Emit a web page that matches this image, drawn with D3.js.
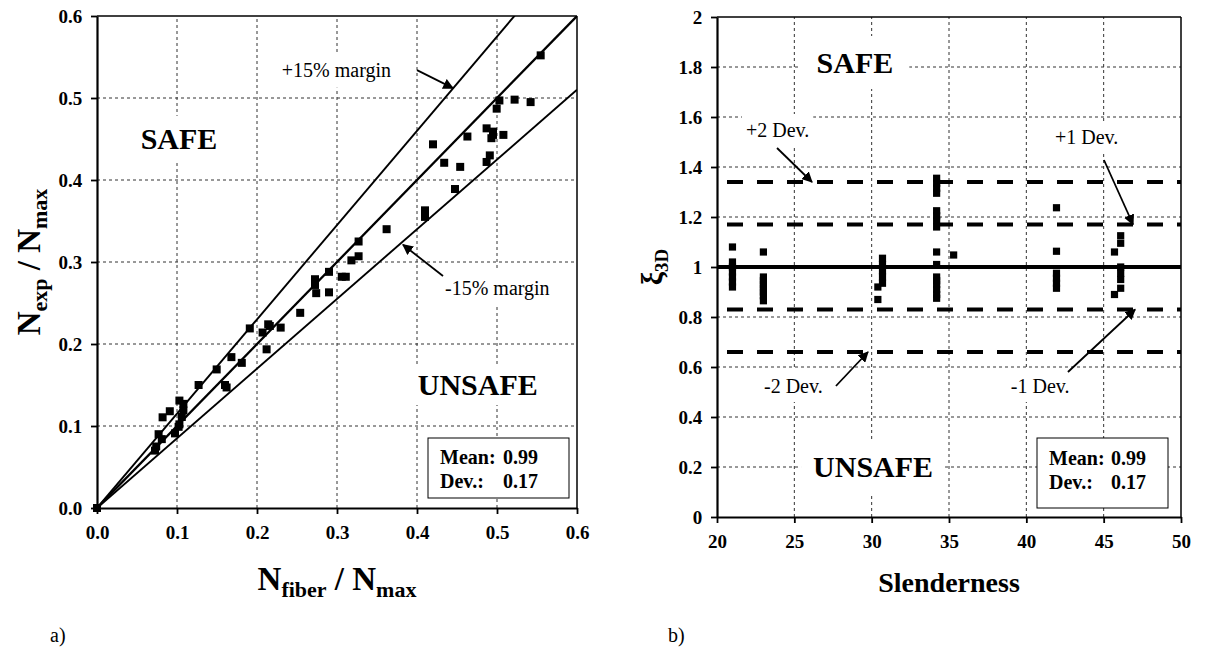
<!DOCTYPE html>
<html>
<head>
<meta charset="utf-8">
<script src="https://cdn.jsdelivr.net/npm/d3@7"></script>
<style>
  html, body { margin: 0; padding: 0; background: #fff; }
  svg { display: block; font-family: "Liberation Serif", "Times New Roman", serif; }
</style>
</head>
<body>
<svg id="fig" width="1222" height="655"></svg>
<script>
// ---- panel a) : experimental vs. fibre-model axial capacity ----
const nFiber = [0.0725, 0.074, 0.077, 0.081, 0.082, 0.091, 0.0975, 0.102, 0.103, 0.103, 0.106, 0.108, 0.108,
  0.127, 0.1496, 0.16, 0.162, 0.168, 0.181, 0.191, 0.207, 0.212, 0.214, 0.216, 0.2296, 0.254,
  0.2725, 0.2725, 0.274, 0.29, 0.29, 0.306, 0.311, 0.318, 0.327, 0.327, 0.362,
  0.41, 0.41, 0.42, 0.434, 0.4475, 0.454, 0.463, 0.487, 0.487, 0.491, 0.493, 0.495, 0.495,
  0.4996, 0.503, 0.508, 0.522, 0.542, 0.5546];
const nExp = [0.070, 0.075, 0.090, 0.084, 0.1106, 0.118, 0.091, 0.099, 0.102, 0.131, 0.111, 0.119, 0.127,
  0.150, 0.169, 0.150, 0.147, 0.184, 0.177, 0.219, 0.214, 0.1935, 0.224, 0.222, 0.220, 0.238,
  0.279, 0.272, 0.262, 0.288, 0.263, 0.282, 0.282, 0.302, 0.325, 0.307, 0.340,
  0.355, 0.363, 0.4435, 0.421, 0.389, 0.416, 0.453, 0.463, 0.422, 0.430, 0.451, 0.459, 0.455,
  0.487, 0.497, 0.455, 0.498, 0.495, 0.552];
const marginFactors = [1.15, 1.0, 0.85];
const ticksA = [0, 0.1, 0.2, 0.3, 0.4, 0.5, 0.6];

// ---- panel b) : model ratio vs. slenderness ----
const slenderness = [21, 21, 21, 21, 21, 21, 21,
  23, 23, 23, 23, 23, 23, 23, 23,
  30.7, 30.7, 30.7, 30.7, 30.7, 30.4, 30.4,
  34.2, 34.2, 34.2, 34.2, 34.2, 34.2, 34.2, 34.2, 34.2, 34.2, 34.2, 34.2, 34.2, 34.2, 34.2, 34.2,
  35.3,
  41.95, 41.95, 41.95, 41.95, 41.95, 41.95,
  46.1, 46.1, 45.7, 46.1, 46.1, 46.1, 46.1, 45.7];
const xi3D = [1.08, 1.02, 1.0, 0.98, 0.96, 0.94, 0.92,
  1.06, 0.96, 0.945, 0.93, 0.915, 0.90, 0.885, 0.865,
  1.035, 1.01, 0.985, 0.96, 0.935, 0.92, 0.87,
  1.355, 1.335, 1.315, 1.295, 1.225, 1.205, 1.185, 1.16, 1.06, 1.01, 0.96, 0.945, 0.93, 0.91, 0.89, 0.875,
  1.048,
  1.237, 1.063, 0.975, 0.955, 0.935, 0.915,
  1.125, 1.095, 1.06, 1.0, 0.975, 0.95, 0.915, 0.89];
const meanLevel = 1.0;
const devLevels = [1.34, 1.17, 0.83, 0.66];
const ticksBx = [20, 25, 30, 35, 40, 45, 50];
const ticksBy = [0, 0.2, 0.4, 0.6, 0.8, 1.0, 1.2, 1.4, 1.6, 1.8, 2.0];

const statsText = [["Mean:", "0.99"], ["Dev.:", "0.17"]];

const annA = [
  { text: "+15% margin", at: [0.231, 0.526], from: [0.40, 0.534], to: [0.445, 0.512] },
  { text: "-15% margin", at: [0.435, 0.260], from: [0.4325, 0.283], to: [0.3825, 0.321] }
];
const annB = [
  { text: "+2 Dev.", at: [21.87, 1.52], from: [23.88, 1.476], to: [26.14, 1.34] },
  { text: "+1 Dev.", at: [41.85, 1.492], from: [45.02, 1.428], to: [46.9, 1.17] },
  { text: "-2 Dev.", at: [23.04, 0.496], from: [27.69, 0.524], to: [29.76, 0.66] },
  { text: "-1 Dev.", at: [39.0, 0.496], from: [42.69, 0.58], to: [47.03, 0.83] }
];

const svg = d3.select("#fig");

svg.append("defs").append("marker")
  .attr("id", "head").attr("viewBox", "0 0 10 10")
  .attr("refX", 9).attr("refY", 5)
  .attr("markerWidth", 6).attr("markerHeight", 6)
  .attr("markerUnits", "strokeWidth").attr("orient", "auto")
  .append("path").attr("d", "M0,0 L10,5 L0,10 z").attr("fill", "#000");

const gridStyle = g => g.attr("stroke", "#333").attr("stroke-width", 1).attr("stroke-dasharray", "3,3");

// text drawn over a white box so the grid does not run through it
function labelWithBg(g, x, y, txt, size, weight, anchor, pad) {
  const lg = g.append("g");
  const t = lg.append("text").attr("x", x).attr("y", y).attr("text-anchor", anchor)
    .attr("font-size", size).attr("font-weight", weight).text(txt);
  const bb = t.node().getBBox();
  lg.insert("rect", "text")
    .attr("x", bb.x - pad[0]).attr("y", bb.y - pad[1])
    .attr("width", bb.width + 2 * pad[0]).attr("height", bb.height + 2 * pad[1])
    .attr("fill", "#fff");
  return t;
}

function statsBox(g, x0, y0, w, h, tx, base, valOff) {
  g.append("rect").attr("x", x0).attr("y", y0).attr("width", w).attr("height", h)
    .attr("fill", "#fff").attr("stroke", "#000").attr("stroke-width", 1);
  statsText.forEach((row, i) => {
    const t = g.append("text").attr("y", base + i * 24).attr("font-size", 20).attr("font-weight", "bold");
    t.append("tspan").attr("x", tx).text(row[0]);
    t.append("tspan").attr("x", tx + valOff).text(row[1]);
  });
}

function styleAxis(a) {
  a.select(".domain").attr("stroke", "#000").attr("stroke-width", 2.2);
  a.selectAll(".tick line").attr("stroke", "#000").attr("stroke-width", 1.8);
  a.selectAll("text").attr("font-family", "Liberation Serif").attr("font-size", 19)
    .attr("font-weight", "bold").attr("fill", "#000");
}

// ================= panel a) =================
{
  const x = d3.scaleLinear().domain([0, 0.6]).range([97, 577]);
  const y = d3.scaleLinear().domain([0, 0.6]).range([508, 16]);
  const g = svg.append("g");

  // grid
  g.append("g").call(gridStyle).selectAll("line").data(ticksA.slice(1, -1)).join("line")
    .attr("x1", d => x(d)).attr("x2", d => x(d)).attr("y1", y(0)).attr("y2", y(0.6));
  g.append("g").call(gridStyle).selectAll("line").data(ticksA.slice(1, -1)).join("line")
    .attr("y1", d => y(d)).attr("y2", d => y(d)).attr("x1", x(0)).attr("x2", x(0.6));

  // region labels and annotations
  labelWithBg(g, x(0.1025), y(0.438), "SAFE", 30, "bold", "middle", [8, 6]);
  labelWithBg(g, x(0.476), y(0.1378), "UNSAFE", 30, "bold", "middle", [6, 4]);
  annA.forEach(a => labelWithBg(g, x(a.at[0]), y(a.at[1]), a.text, 20, "normal", "start", [5, 6]));

  // reference lines through the origin
  svg.append("clipPath").attr("id", "clipA").append("rect")
    .attr("x", x(0)).attr("y", y(0.6)).attr("width", x(0.6) - x(0)).attr("height", y(0) - y(0.6));
  g.append("g").attr("clip-path", "url(#clipA)").selectAll("line").data(marginFactors).join("line")
    .attr("x1", x(0)).attr("y1", y(0))
    .attr("x2", x(0.6)).attr("y2", d => y(0.6 * d))
    .attr("stroke", "#000").attr("stroke-width", d => d === 1 ? 2.3 : 1.9);

  // arrows
  annA.forEach(a => {
    g.append("line").attr("x1", x(a.from[0])).attr("y1", y(a.from[1]))
      .attr("x2", x(a.to[0])).attr("y2", y(a.to[1]))
      .attr("stroke", "#000").attr("stroke-width", 1.8).attr("marker-end", "url(#head)");
  });

  // data points (origin included)
  const pts = [[0, 0]].concat(nFiber.map((v, i) => [v, nExp[i]]));
  g.append("g").selectAll("rect").data(pts).join("rect")
    .attr("x", d => x(d[0]) - 4).attr("y", d => y(d[1]) - 4)
    .attr("width", 8).attr("height", 8).attr("fill", "#000");

  statsBox(g, 428, 438, 141, 60, 440, 464, 63);

  // frame
  g.append("line").attr("x1", x(0)).attr("x2", x(0.6)).attr("y1", y(0.6)).attr("y2", y(0.6))
    .attr("stroke", "#000").attr("stroke-width", 1.5);
  g.append("line").attr("x1", x(0.6)).attr("x2", x(0.6)).attr("y1", y(0.6)).attr("y2", y(0))
    .attr("stroke", "#000").attr("stroke-width", 1.5);

  // axes
  const ax = g.append("g").attr("transform", `translate(0,${y(0)})`)
    .call(d3.axisBottom(x).tickValues(ticksA).tickFormat(d3.format(".1f")).tickSize(6).tickSizeOuter(0));
  const ay = g.append("g").attr("transform", `translate(${x(0)},0)`)
    .call(d3.axisLeft(y).tickValues(ticksA).tickFormat(d3.format(".1f")).tickSize(6).tickSizeOuter(0));
  styleAxis(ax); styleAxis(ay);
  ax.selectAll("text").attr("dy", "1.15em");
  ay.selectAll("text").attr("dx", "-0.3em");

  // axis titles
  const xt = g.append("text").attr("x", 337).attr("y", 590).attr("text-anchor", "middle")
    .attr("font-weight", "bold").attr("font-size", 33);
  xt.append("tspan").text("N");
  xt.append("tspan").attr("font-size", 22).attr("dy", 7).text("fiber");
  xt.append("tspan").attr("dy", -7).text(" / N");
  xt.append("tspan").attr("font-size", 22).attr("dy", 7).text("max");

  const yt = g.append("text").attr("transform", `translate(40,262) rotate(-90)`)
    .attr("text-anchor", "middle").attr("font-weight", "bold").attr("font-size", 33);
  yt.append("tspan").text("N");
  yt.append("tspan").attr("font-size", 22).attr("dy", 7).text("exp");
  yt.append("tspan").attr("dy", -7).text(" / N");
  yt.append("tspan").attr("font-size", 22).attr("dy", 7).text("max");

  svg.append("text").attr("x", 50).attr("y", 642).attr("font-size", 20).text("a)");
}

// ================= panel b) =================
{
  const x = d3.scaleLinear().domain([20, 50]).range([717, 1181]);
  const y = d3.scaleLinear().domain([0, 2]).range([517, 17]);
  const g = svg.append("g");

  g.append("g").call(gridStyle).selectAll("line").data(ticksBx.slice(1, -1)).join("line")
    .attr("x1", d => x(d)).attr("x2", d => x(d)).attr("y1", y(0)).attr("y2", y(2));
  g.append("g").call(gridStyle).selectAll("line").data(ticksBy.slice(1, -1)).join("line")
    .attr("y1", d => y(d)).attr("y2", d => y(d)).attr("x1", x(20)).attr("x2", x(50));

  // region labels and annotations
  labelWithBg(g, x(28.92), y(1.776), "SAFE", 30, "bold", "middle", [16, 10]);
  labelWithBg(g, x(30.09), y(0.16), "UNSAFE", 30, "bold", "middle", [12, 10]);
  annB.forEach(a => labelWithBg(g, x(a.at[0]), y(a.at[1]), a.text, 20, "normal", "start", [4, 5]));

  // ±1 and ±2 deviation bands
  g.append("g").selectAll("line").data(devLevels).join("line")
    .attr("x1", x(20)).attr("x2", x(50)).attr("y1", d => y(d)).attr("y2", d => y(d))
    .attr("stroke", "#000").attr("stroke-width", 4)
    .attr("stroke-dasharray", "16,14").attr("stroke-dashoffset", 20);

  // mean line
  g.append("line").attr("x1", x(20)).attr("x2", x(50)).attr("y1", y(meanLevel)).attr("y2", y(meanLevel))
    .attr("stroke", "#000").attr("stroke-width", 4);

  annB.forEach(a => {
    g.append("line").attr("x1", x(a.from[0])).attr("y1", y(a.from[1]))
      .attr("x2", x(a.to[0])).attr("y2", y(a.to[1]))
      .attr("stroke", "#000").attr("stroke-width", 1.8).attr("marker-end", "url(#head)");
  });

  g.append("g").selectAll("rect").data(slenderness.map((s, i) => [s, xi3D[i]])).join("rect")
    .attr("x", d => x(d[0]) - 3.6).attr("y", d => y(d[1]) - 3.6)
    .attr("width", 7.2).attr("height", 7.2).attr("fill", "#000");

  statsBox(g, 1037, 438, 131, 70, 1049, 465, 62);

  g.append("line").attr("x1", x(20)).attr("x2", x(50)).attr("y1", y(2)).attr("y2", y(2))
    .attr("stroke", "#000").attr("stroke-width", 1.5);
  g.append("line").attr("x1", x(50)).attr("x2", x(50)).attr("y1", y(2)).attr("y2", y(0))
    .attr("stroke", "#000").attr("stroke-width", 1.5);

  const ax = g.append("g").attr("transform", `translate(0,${y(0)})`)
    .call(d3.axisBottom(x).tickValues(ticksBx).tickFormat(d3.format("d")).tickSize(6).tickSizeOuter(0));
  const ay = g.append("g").attr("transform", `translate(${x(20)},0)`)
    .call(d3.axisLeft(y).tickValues(ticksBy).tickFormat(d3.format("~g")).tickSize(6).tickSizeOuter(0));
  styleAxis(ax); styleAxis(ay);
  ax.selectAll("text").attr("dy", "1.15em");
  ay.selectAll("text").attr("dx", "-0.3em");

  g.append("text").attr("x", 949).attr("y", 592).attr("text-anchor", "middle")
    .attr("font-weight", "bold").attr("font-size", 28).text("Slenderness");

  const yt = g.append("text").attr("transform", `translate(662,267) rotate(-90)`)
    .attr("text-anchor", "middle").attr("font-weight", "bold").attr("font-size", 30);
  yt.append("tspan").text("ξ");
  yt.append("tspan").attr("font-size", 19).attr("dy", 6).text("3D");

  svg.append("text").attr("x", 668).attr("y", 642).attr("font-size", 20).text("b)");
}
</script>
</body>
</html>
